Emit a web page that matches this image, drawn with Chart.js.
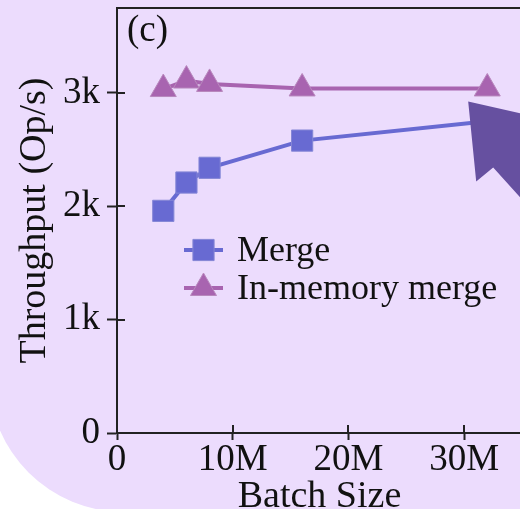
<!DOCTYPE html>
<html>
<head>
<meta charset="utf-8">
<title>Throughput vs batch size</title>
<script src="https://cdn.jsdelivr.net/npm/chart.js@4.4.1/dist/chart.umd.min.js"></script>
<style>
  html, body { margin: 0; padding: 0; width: 520px; height: 509px; overflow: hidden; background: #fff; }
  #panel { position: absolute; left: -11px; top: -300px; width: 900px; height: 812px; border-radius: 135px; background: #ecdcfd; }
  #chart { position: absolute; left: 0; top: 0; }
</style>
</head>
<body>
<div id="panel"></div>
<canvas id="chart" width="530" height="520"></canvas>
<script>
// batch size in millions, throughput in Op/s
const batchSizes = [4, 6, 8, 16, 32];
const mergeThroughput = [1960, 2210, 2340, 2580, 2750];
const inMemoryThroughput = [3035, 3110, 3080, 3040, 3040];
const seriesNames = ['Merge', 'In-memory merge'];
const xTicks = [0, 10, 20, 30];
const xTickLabels = ['0', '10M', '20M', '30M'];
const yTicks = [0, 1000, 2000, 3000];
const yTickLabels = ['0', '1k', '2k', '3k'];

const serif = 'Liberation Serif';
const ink = '#222';

function points(ys) {
  return batchSizes.map((x, i) => ({ x: x, y: ys[i] }));
}

// extra bits: frame top, inner tick stubs, panel label, legend, arrow
const extras = {
  id: 'extras',
  afterDraw(chart) {
    const ctx = chart.ctx;
    const a = chart.chartArea;
    const sx = chart.scales.x, sy = chart.scales.y;
    ctx.save();

    ctx.strokeStyle = ink;
    ctx.lineWidth = 2;
    ctx.beginPath();
    ctx.moveTo(a.left - 1, a.top);
    ctx.lineTo(a.right, a.top);
    ctx.lineTo(a.right, a.bottom);
    ctx.stroke();

    ctx.beginPath();
    yTicks.forEach(v => {
      const p = Math.round(sy.getPixelForValue(v));
      ctx.moveTo(a.left, p); ctx.lineTo(a.left + 8, p);
    });
    xTicks.forEach(v => {
      const p = Math.round(sx.getPixelForValue(v));
      ctx.moveTo(p, a.bottom); ctx.lineTo(p, a.bottom - 8);
    });
    ctx.stroke();

    ctx.fillStyle = '#111';
    ctx.font = '37px "' + serif + '"';
    ctx.textBaseline = 'alphabetic';
    ctx.textAlign = 'left';
    ctx.fillText('(c)', a.left + 10, a.top + 33);

    // legend
    chart.data.datasets.forEach((ds, i) => {
      const ly = a.top + 242 + i * 38;
      const lx = a.left + 67;
      ctx.strokeStyle = ds.borderColor;
      ctx.lineWidth = ds.borderWidth;
      ctx.beginPath();
      ctx.moveTo(lx, ly); ctx.lineTo(lx + 39, ly);
      ctx.stroke();
      ctx.fillStyle = ds.pointBackgroundColor;
      ctx.strokeStyle = ds.pointBorderColor;
      ctx.lineWidth = 1;
      Chart.helpers.drawPoint(ctx, { pointStyle: ds.pointStyle, radius: ds.pointRadius, rotation: 0, borderWidth: 1 }, lx + 19.5, ly);
      ctx.fillStyle = '#111';
      ctx.font = '36px "' + serif + '"';
      ctx.fillText(ds.label, lx + 53, ly + 10.5);
    });

    // big arrow pointing at the last points
    const tx = sx.getPixelForValue(30.35), ty = sy.getPixelForValue(2925);
    ctx.fillStyle = '#6650a0';
    ctx.beginPath();
    ctx.moveTo(tx, ty);
    ctx.lineTo(tx + 92, ty + 21);
    ctx.lineTo(tx + 92, ty + 140);
    ctx.lineTo(tx + 25, ty + 66);
    ctx.lineTo(tx + 8, ty + 80);
    ctx.closePath();
    ctx.fill();

    ctx.restore();
  }
};

new Chart(document.getElementById('chart'), {
  type: 'line',
  data: {
    datasets: [{
      label: seriesNames[0],
      data: points(mergeThroughput),
      borderColor: '#686ad2',
      backgroundColor: '#686ad2',
      pointBackgroundColor: '#686ad2',
      pointBorderColor: '#8587d6',
      pointBorderWidth: 1,
      borderWidth: 4,
      pointStyle: 'rect',
      pointRadius: 15,
      pointHoverRadius: 15
    }, {
      label: seriesNames[1],
      data: points(inMemoryThroughput),
      borderColor: '#a864b0',
      backgroundColor: '#a864b0',
      pointBackgroundColor: '#a864b0',
      pointBorderColor: '#b888bd',
      pointBorderWidth: 1,
      borderWidth: 4,
      pointStyle: 'triangle',
      pointRadius: 15,
      pointHoverRadius: 15
    }]
  },
  options: {
    responsive: false,
    animation: false,
    layout: { autoPadding: false, padding: { top: 8, right: 8, left: 0, bottom: 0 } },
    plugins: { legend: { display: false }, tooltip: { enabled: false } },
    scales: {
      x: {
        type: 'linear',
        min: 0,
        max: 35,
        afterBuildTicks(s) { s.ticks = xTicks.map(v => ({ value: v })); },
        afterFit(s) { s.height = 87; s.paddingLeft = 0; s.paddingRight = 0; },
        ticks: {
          callback: v => xTickLabels[xTicks.indexOf(v)],
          color: '#111',
          padding: -2,
          maxRotation: 0,
          font: { family: serif, size: 37 }
        },
        grid: { drawOnChartArea: false, tickLength: 7, tickColor: ink, tickWidth: 2 },
        border: { color: ink, width: 2 },
        title: {
          display: true,
          text: 'Batch Size',
          color: '#111',
          font: { family: serif, size: 38 },
          padding: { top: 0, bottom: 0 }
        }
      },
      y: {
        min: 0,
        max: 3750,
        afterBuildTicks(s) { s.ticks = yTicks.map(v => ({ value: v })); },
        afterFit(s) { s.width = 117; s.paddingTop = 0; s.paddingBottom = 0; },
        ticks: {
          callback: v => yTickLabels[yTicks.indexOf(v)],
          color: '#111',
          padding: 7,
          font: { family: serif, size: 37 }
        },
        grid: { drawOnChartArea: false, tickLength: 10, tickColor: ink, tickWidth: 2 },
        border: { color: ink, width: 2 },
        title: {
          display: true,
          text: 'Throughput (Op/s)',
          color: '#111',
          font: { family: serif, size: 38 },
          padding: { top: 12, bottom: 0 }
        }
      }
    }
  },
  plugins: [extras]
});
</script>
</body>
</html>
